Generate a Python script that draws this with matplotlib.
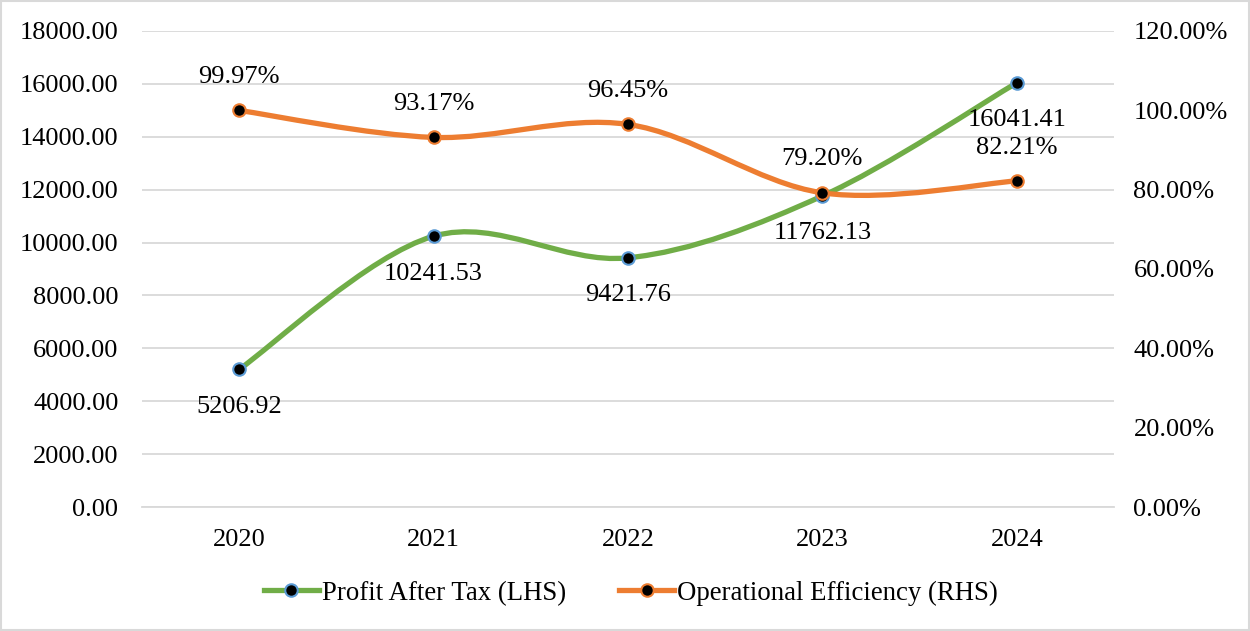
import matplotlib
matplotlib.use("Agg")
import matplotlib.pyplot as plt
from matplotlib.path import Path
from matplotlib.patches import PathPatch
from matplotlib.lines import Line2D
from matplotlib.ticker import FuncFormatter
import numpy as np

plt.rcParams['font.family'] = ['Liberation Serif', 'DejaVu Serif']

years = ["2020", "2021", "2022", "2023", "2024"]
profit = [5206.92, 10241.53, 9421.76, 11762.13, 16041.41]
efficiency = [99.97, 93.17, 96.45, 79.20, 82.21]
profit_labels = ["5206.92", "10241.53", "9421.76", "11762.13", "16041.41"]
eff_labels = ["99.97%", "93.17%", "96.45%", "79.20%", "82.21%"]

GREEN = "#70AD47"
ORANGE = "#ED7D31"
BLUE = "#5B9BD5"
FS = 19
MS = 9


def smooth_path(xs, ys):
    xs = np.asarray(xs, float)
    ys = np.asarray(ys, float)
    n = len(xs)
    verts = [(xs[0], ys[0])]
    codes = [Path.MOVETO]
    for i in range(n - 1):
        x0, y0 = (xs[i - 1], ys[i - 1]) if i > 0 else (xs[i], ys[i])
        x1, y1 = xs[i], ys[i]
        x2, y2 = xs[i + 1], ys[i + 1]
        x3, y3 = (xs[i + 2], ys[i + 2]) if i + 2 < n else (x2, y2)
        c1 = (x1 + (x2 - x0) / 6, y1 + (y2 - y0) / 6)
        c2 = (x2 - (x3 - x1) / 6, y2 - (y3 - y1) / 6)
        verts += [c1, c2, (x2, y2)]
        codes += [Path.CURVE4] * 3
    return Path(verts, codes)


fig = plt.figure(figsize=(12.5, 6.31), dpi=100)
ax = fig.add_axes([0.1136, 0.1965, 0.7776, 0.7544])
ax2 = ax.twinx()

x = np.arange(len(years))

ax.set_xlim(-0.5, len(years) - 0.5)
ax.set_ylim(0, 18000)
ax.set_yticks(np.arange(0, 18001, 2000))
ax.yaxis.set_major_formatter(FuncFormatter(lambda v, p: f"{v:.2f}"))
ax2.set_ylim(0, 120)
ax2.set_yticks(np.arange(0, 121, 20))
ax2.yaxis.set_major_formatter(FuncFormatter(lambda v, p: f"{v:.2f}%"))

ax.grid(axis='y', color='#D9D9D9', linewidth=1.3)
ax.set_axisbelow(True)
for a in (ax, ax2):
    for s in a.spines.values():
        s.set_visible(False)
    a.tick_params(length=0, labelsize=FS, colors='black')
ax.spines['bottom'].set_visible(True)
ax.spines['bottom'].set_color('#D9D9D9')
ax.spines['bottom'].set_linewidth(1.3)
ax.set_xticks(x)
ax.set_xticklabels(years)
ax.tick_params(axis='x', pad=16)
ax.tick_params(axis='y', pad=17)
ax2.tick_params(axis='y', pad=14)

# Lines
ax.add_patch(PathPatch(smooth_path(x, profit), facecolor='none', edgecolor=GREEN,
                       linewidth=3.8, capstyle='round', zorder=3))
ax2.add_patch(PathPatch(smooth_path(x, efficiency), facecolor='none', edgecolor=ORANGE,
                        linewidth=3.8, capstyle='round', zorder=3))
ax.plot(x, profit, linestyle='none', marker='o', markersize=MS,
        markerfacecolor='black', markeredgecolor=BLUE, markeredgewidth=1.5, zorder=4)
ax2.plot(x, efficiency, linestyle='none', marker='o', markersize=MS,
         markerfacecolor='black', markeredgecolor=ORANGE, markeredgewidth=1.5, zorder=4)

for xi, v, t in zip(x, profit, profit_labels):
    ax.annotate(t, (xi, v), xytext=(0, -27), textcoords='offset points',
                ha='center', va='center', fontsize=FS, zorder=5)
for xi, v, t in zip(x, efficiency, eff_labels):
    ax2.annotate(t, (xi, v), xytext=(0, 24), textcoords='offset points',
                 ha='center', va='center', fontsize=FS, zorder=5)

handles = [
    Line2D([], [], color=GREEN, linewidth=3.8, marker='o', markersize=MS,
           markerfacecolor='black', markeredgecolor=BLUE, markeredgewidth=1.5),
    Line2D([], [], color=ORANGE, linewidth=3.8, marker='o', markersize=MS,
           markerfacecolor='black', markeredgecolor=ORANGE, markeredgewidth=1.5),
]
fig.legend(handles, ["Profit After Tax (LHS)", "Operational Efficiency (RHS)"],
           loc='center', bbox_to_anchor=(0.5048, 0.06), ncol=2, frameon=False,
           fontsize=19.3, handlelength=2.05, handletextpad=0.12, columnspacing=1.98)

fig.patches.append(plt.Rectangle((0.001, 0.001), 0.998, 0.997, transform=fig.transFigure,
                                 fill=False, edgecolor='#D9D9D9', linewidth=1.5))

fig.savefig("out.png", dpi=100)
